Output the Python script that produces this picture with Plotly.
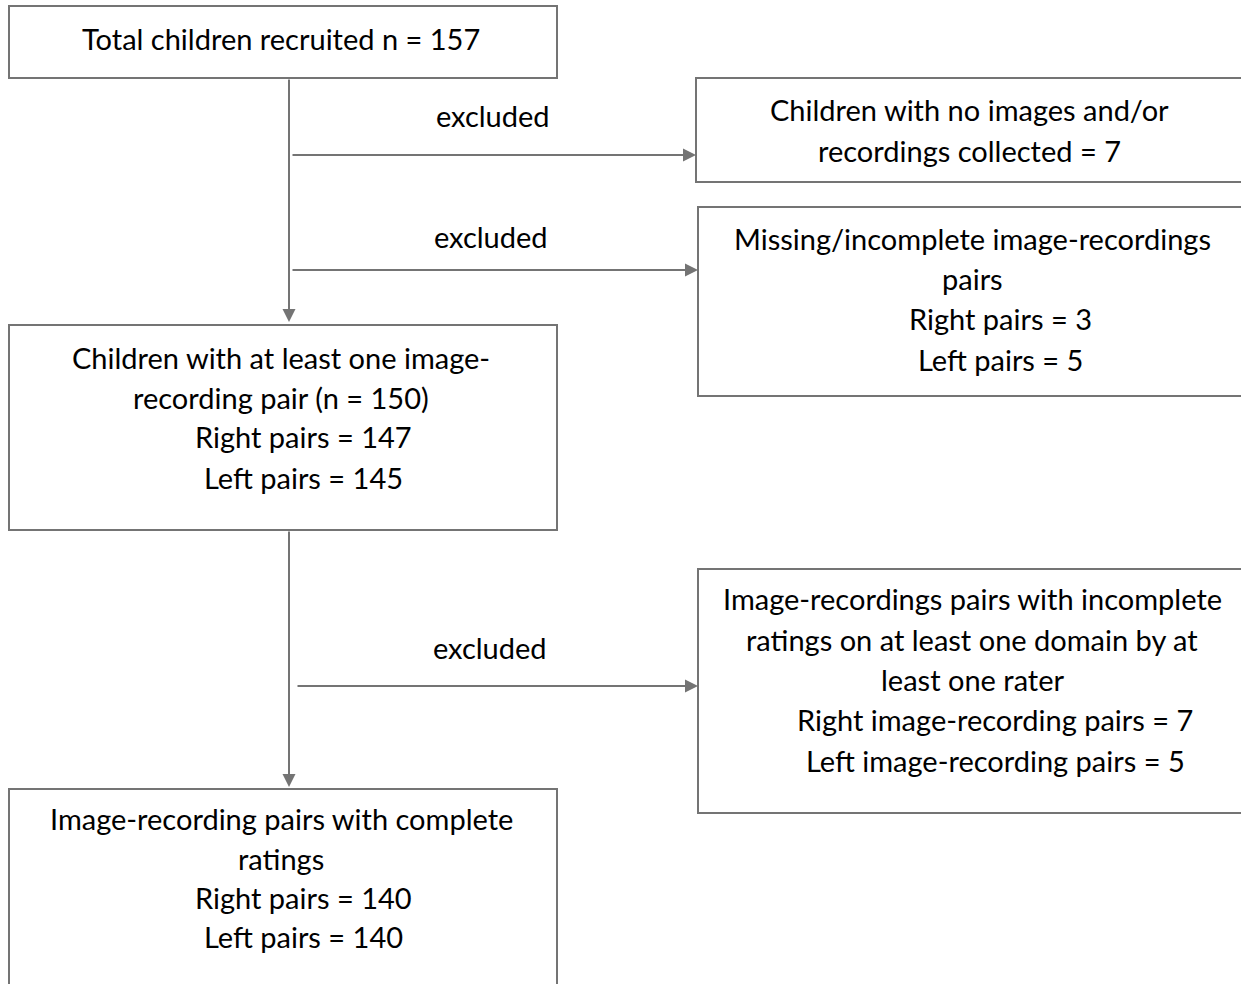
import plotly.graph_objects as go

# ---- content ----
box_texts = [
    ["Total children recruited n = 157"],
    ["Children with no images and/or", "recordings collected = 7"],
    ["Missing/incomplete image-recordings", "pairs", "Right pairs = 3", "Left pairs = 5"],
    ["Children with at least one image-", "recording pair (n = 150)", "Right pairs = 147", "Left pairs = 145"],
    ["Image-recordings pairs with incomplete", "ratings on at least one domain by at", "least one rater",
     "Right image-recording pairs = 7", "Left image-recording pairs = 5"],
    ["Image-recording pairs with complete", "ratings", "Right pairs = 140", "Left pairs = 140"],
]
edge_label = "excluded"

# ---- layout (pixel geometry) ----
W, H = 1241, 984
TEXT_DY = -2
boxes = [  # x0, y0, x1, y1
    (9, 6, 557, 78),
    (696, 78, 1260, 182),
    (698, 207, 1260, 396),
    (9, 325, 557, 530),
    (698, 569, 1260, 813),
    (9, 789, 557, 1000),
]
# per line: (center x, y)
line_pos = [
    [(281, 40)],
    [(969, 111), (969, 152)],
    [(972, 240), (972, 280), (1000, 320), (1000, 361)],
    [(281, 359), (281, 399), (303, 438), (303, 479)],
    [(972, 600), (972, 641), (972, 681), (995, 721), (995, 762)],
    [(281, 820), (281, 860), (303, 899), (303, 938)],
]
vlines = [(289, 78, 322), (289, 530, 787)]
harrows = [(291, 155, 696), (291, 270, 698), (296, 686, 698)]
label_pos = [(493, 117), (491, 238), (490, 649)]

LINE = "#747474"
FONT = "Lato"
FS = 29

fig = go.Figure()
shapes = []
annotations = []
for (x0, y0, x1, y1) in boxes:
    shapes.append(dict(type="rect", xref="x", yref="y", x0=x0, y0=y0, x1=x1, y1=y1,
                       line=dict(color=LINE, width=2), fillcolor="white", layer="below"))

for lines, poss in zip(box_texts, line_pos):
    for t, (cx, cy) in zip(lines, poss):
        annotations.append(dict(x=cx, y=cy + TEXT_DY, xref="x", yref="y", text=t, showarrow=False,
                                font=dict(family=FONT, size=FS, color="black"),
                                xanchor="center", yanchor="middle"))

for (x, ya, yb) in vlines:
    annotations.append(dict(x=x, y=yb, ax=x, ay=ya, xref="x", yref="y", axref="x", ayref="y",
                            text="", showarrow=True, arrowhead=2, arrowsize=1.3, arrowwidth=2,
                            arrowcolor=LINE))
for (xa, y, xb) in harrows:
    annotations.append(dict(x=xb, y=y, ax=xa, ay=y, xref="x", yref="y", axref="x", ayref="y",
                            text="", showarrow=True, arrowhead=2, arrowsize=1.3, arrowwidth=2,
                            arrowcolor=LINE))
for (cx, cy) in label_pos:
    annotations.append(dict(x=cx, y=cy + TEXT_DY, xref="x", yref="y", text=edge_label, showarrow=False,
                            font=dict(family=FONT, size=FS, color="black"),
                            xanchor="center", yanchor="middle"))

fig.update_layout(
    width=W, height=H, margin=dict(l=0, r=0, t=0, b=0),
    paper_bgcolor="white", plot_bgcolor="white",
    shapes=shapes, annotations=annotations, showlegend=False,
    xaxis=dict(range=[0, W], visible=False, fixedrange=True),
    yaxis=dict(range=[H, 0], visible=False, fixedrange=True),
)
fig.write_html("out.html", config={"displayModeBar": False},
               post_script="document.body.style.margin='0';document.body.style.overflow='hidden';")
